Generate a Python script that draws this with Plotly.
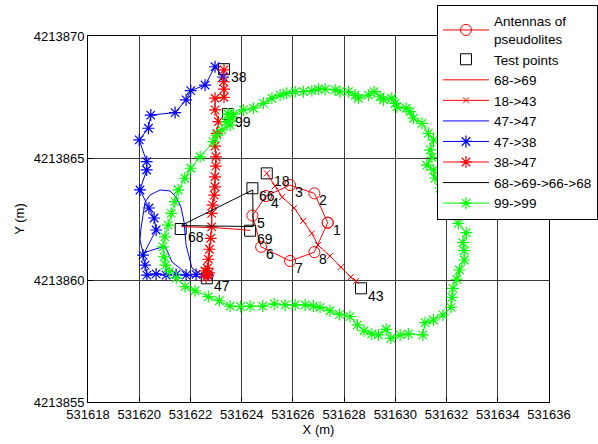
import plotly.graph_objects as go

# Pseudolite antenna positions (UTM easting / northing, m)
ant_labels = ["1", "2", "3", "4", "5", "6", "7", "8"]
ant_x = [531627.36, 531626.84, 531625.89, 531624.95, 531624.42, 531624.76, 531625.89, 531626.84]
ant_y = [4213862.35, 4213863.55, 4213863.89, 4213863.44, 4213862.64, 4213861.36, 4213860.78, 4213861.14]

# Surveyed test points
tp_labels = ["38", "99", "18", "66", "68", "69", "47", "43"]
tp_x = [531623.31, 531623.47, 531624.98, 531624.42, 531621.62, 531624.33, 531622.64, 531628.66]
tp_y = [4213868.64, 4213866.80, 4213864.37, 4213863.76, 4213862.09, 4213862.02, 4213860.07, 4213859.66]

# Trajectory 68 -> 69
t68_69_x = [531621.65, 531622.38, 531623.16, 531623.94, 531624.33]
t68_69_y = [4213862.19, 4213862.17, 4213862.13, 4213862.07, 4213862.03]

# Trajectory 18 -> 43
t18_43_x = [531624.98, 531625.30, 531625.58, 531626.05, 531626.40, 531626.74, 531626.98,
            531627.45, 531627.87, 531628.26, 531628.47]
t18_43_y = [4213864.37, 4213863.85, 4213863.40, 4213862.95, 4213862.42, 4213861.91, 4213861.43,
            4213860.98, 4213860.53, 4213860.12, 4213859.96]

# Trajectory 47 -> 47
t47_47_x = [531622.57, 531622.06, 531621.83, 531621.75, 531621.63, 531621.44, 531621.20, 531620.81,
            531620.42, 531620.23, 531620.15, 531620.07, 531620.03, 531620.15, 531621.01, 531621.28,
            531621.98, 531622.57]
t47_47_y = [4213860.12, 4213860.49, 4213861.43, 4213862.38, 4213862.99, 4213863.40, 4213863.65, 4213863.69,
            4213863.48, 4213863.20, 4213862.66, 4213862.13, 4213861.64, 4213861.11, 4213861.39, 4213860.74,
            4213860.16, 4213860.12]

# Trajectory 47 -> 38
t47_38_x = [531622.69, 531622.22, 531621.83, 531621.44, 531621.05, 531620.66, 531620.30, 531620.23,
            531620.15, 531620.66, 531620.58, 531620.38, 531620.03, 531620.29, 531620.29, 531620.00,
            531620.36, 531620.45, 531621.40, 531621.83, 531622.01, 531622.57, 531622.96, 531623.27]
t47_38_y = [4213860.20, 4213860.23, 4213860.20, 4213860.23, 4213860.20, 4213860.25, 4213860.20, 4213860.61,
            4213861.02, 4213862.05, 4213862.54, 4213862.95, 4213863.69, 4213864.51, 4213864.85, 4213865.74,
            4213866.22, 4213866.76, 4213866.86, 4213867.38, 4213867.76, 4213867.99, 4213868.74, 4213868.32]

# Trajectory 38 -> 47
t38_47_x = [531623.31, 531623.29, 531623.31, 531623.31, 531622.96, 531622.96, 531623.09, 531623.03,
            531622.96, 531623.00, 531622.99, 531622.96, 531622.96, 531622.93, 531622.87, 531622.83,
            531622.83, 531622.79, 531622.74, 531622.70, 531622.66, 531622.66, 531622.57, 531622.73,
            531622.61]
t38_47_y = [4213868.61, 4213868.13, 4213867.82, 4213867.49, 4213867.45, 4213866.97, 4213866.49, 4213866.01,
            4213865.49, 4213865.05, 4213864.67, 4213864.23, 4213863.82, 4213863.48, 4213863.07, 4213862.73,
            4213862.18, 4213861.71, 4213861.26, 4213860.85, 4213860.48, 4213860.20, 4213860.37, 4213860.29,
            4213860.12]

# Closed loop 68 -> 69 -> 66 -> 68
loop_x = [531621.65, 531624.45, 531624.43, 531621.67]
loop_y = [4213862.23, 4213862.19, 4213863.69, 4213862.25]

# Trajectory 99 -> 99
t99_x = [531623.47, 531623.63, 531623.39, 531623.55, 531623.23, 531623.03, 531622.89, 531622.38, 531622.01,
         531621.78, 531621.52, 531621.39, 531621.25, 531621.13, 531621.00, 531620.93, 531620.97, 531621.02,
         531621.19, 531621.45, 531621.79, 531622.18, 531622.70, 531623.13, 531623.55, 531623.96, 531624.33,
         531624.82, 531625.27, 531625.70, 531626.09, 531626.48, 531626.80, 531627.06, 531627.45, 531627.82,
         531628.23, 531628.52, 531628.78, 531629.08, 531629.34, 531629.64, 531629.82, 531630.19, 531630.51,
         531631.07, 531631.16, 531631.49, 531631.86, 531632.17, 531632.21, 531632.25, 531632.40, 531632.50,
         531632.69, 531632.69, 531632.64, 531632.77, 531632.46, 531632.46, 531632.11, 531631.95, 531631.75,
         531631.55, 531631.49, 531631.23, 531631.43, 531631.36, 531631.49, 531631.29, 531631.04, 531630.71,
         531630.58, 531630.42, 531630.06, 531629.99, 531629.86, 531629.54, 531629.41, 531629.17, 531628.95,
         531628.56, 531628.43, 531628.17, 531627.84, 531627.65, 531627.26, 531627.00, 531626.74, 531626.41,
         531626.09, 531625.76, 531625.50, 531625.18, 531624.85, 531624.46, 531624.07, 531623.68, 531623.47]
t99_y = [4213866.80, 4213866.64, 4213866.48, 4213866.35, 4213866.15, 4213865.94, 4213865.67, 4213865.05,
         4213864.58, 4213864.17, 4213863.69, 4213863.21, 4213862.73, 4213862.25, 4213861.77, 4213861.36,
         4213860.95, 4213860.61, 4213860.34, 4213860.09, 4213859.73, 4213859.56, 4213859.32, 4213859.15,
         4213858.93, 4213858.91, 4213858.93, 4213858.93, 4213859.02, 4213858.98, 4213858.98, 4213858.98,
         4213858.93, 4213858.88, 4213858.74, 4213858.59, 4213858.50, 4213858.16, 4213857.92, 4213857.79,
         4213857.75, 4213857.98, 4213857.61, 4213857.75, 4213857.79, 4213857.75, 4213858.25, 4213858.36,
         4213858.57, 4213858.88, 4213859.29, 4213859.66, 4213860.03, 4213860.41, 4213860.82, 4213861.20,
         4213861.53, 4213861.94, 4213862.32, 4213862.62, 4213862.80, 4213863.28, 4213863.77, 4213864.18,
         4213864.51, 4213864.71, 4213865.03, 4213865.33, 4213865.74, 4213866.01, 4213866.42, 4213866.63,
         4213866.90, 4213867.04, 4213867.10, 4213867.24, 4213867.45, 4213867.38, 4213867.51, 4213867.72,
         4213867.58, 4213867.45, 4213867.58, 4213867.72, 4213867.72, 4213867.79, 4213867.82, 4213867.82,
         4213867.76, 4213867.72, 4213867.72, 4213867.65, 4213867.58, 4213867.45, 4213867.24, 4213867.04,
         4213866.97, 4213866.80, 4213866.80]

x_ticks = list(range(531618, 531637, 2))
y_ticks = [4213855, 4213860, 4213865, 4213870]

RED, BLUE, GREEN, BLACK = "#ff0000", "#0000ff", "#00ff00", "#000000"
FONT = "Liberation Sans, Arial, Helvetica, sans-serif"

fig = go.Figure()

# antenna polygon, closed back to antenna 1
fig.add_trace(go.Scatter(
    x=ant_x + ant_x[:1], y=ant_y + ant_y[:1], mode="lines+markers",
    name="Antennas of<br>pseudolites",
    line=dict(color=RED, width=1),
    marker=dict(symbol="circle-open", size=11, color=RED, line=dict(width=1, color=RED)),
))
fig.add_trace(go.Scatter(
    x=tp_x, y=tp_y, mode="markers", name="Test points",
    marker=dict(symbol="square-open", size=11, color=BLACK, line=dict(width=1, color=BLACK)),
))
fig.add_trace(go.Scatter(
    x=t68_69_x, y=t68_69_y, mode="lines", name="68->69",
    line=dict(color=RED, width=1),
))
fig.add_trace(go.Scatter(
    x=t18_43_x, y=t18_43_y, mode="lines+markers", name="18->43",
    line=dict(color=RED, width=1),
    marker=dict(symbol="x-thin-open", size=6, color=RED, line=dict(width=1, color=RED)),
))
fig.add_trace(go.Scatter(
    x=t47_47_x, y=t47_47_y, mode="lines", name="47->47",
    line=dict(color=BLUE, width=1),
))
fig.add_trace(go.Scatter(
    x=t47_38_x, y=t47_38_y, mode="lines+markers", name="47->38",
    line=dict(color=BLUE, width=1),
    marker=dict(symbol="asterisk-open", size=10, color=BLUE, line=dict(width=1.2, color=BLUE)),
))
fig.add_trace(go.Scatter(
    x=t38_47_x, y=t38_47_y, mode="lines+markers", name="38->47",
    line=dict(color=RED, width=1),
    marker=dict(symbol="asterisk-open", size=10, color=RED, line=dict(width=1.2, color=RED)),
))
fig.add_trace(go.Scatter(
    x=loop_x, y=loop_y, mode="lines", name="68->69->66->68",
    line=dict(color=BLACK, width=1),
))
fig.add_trace(go.Scatter(
    x=t99_x, y=t99_y, mode="lines+markers", name="99->99",
    line=dict(color=GREEN, width=1),
    marker=dict(symbol="asterisk-open", size=10, color=GREEN, line=dict(width=1.2, color=GREEN)),
))

# point labels
annotations = []
for lab, x, y in zip(ant_labels, ant_x, ant_y):
    annotations.append(dict(x=x, y=y, text=lab, showarrow=False, xanchor="center", yanchor="middle",
                            xshift=9, yshift=-7, font=dict(size=14, color=BLACK, family=FONT)))
for lab, x, y in zip(tp_labels, tp_x, tp_y):
    annotations.append(dict(x=x, y=y, text=lab, showarrow=False, xanchor="left", yanchor="middle",
                            xshift=5, yshift=-8, font=dict(size=14, color=BLACK, family=FONT)))

axis_common = dict(
    showgrid=True, gridcolor="#3a3a3a", gridwidth=1,
    showline=True, linecolor=BLACK, linewidth=1, mirror=True,
    ticks="inside", ticklen=5, tickcolor=BLACK, tickformat="d",
    zeroline=False, tickfont=dict(size=13, color=BLACK, family=FONT),
)

fig.update_layout(
    width=598, height=444,
    margin=dict(l=88, r=49, t=36, b=42, autoexpand=False),
    paper_bgcolor="white", plot_bgcolor="white",
    font=dict(family=FONT, size=13, color=BLACK),
    xaxis=dict(range=[531618, 531636], tickvals=x_ticks,
               title=dict(text="X (m)", font=dict(size=13), standoff=4), **axis_common),
    yaxis=dict(range=[4213855, 4213870], tickvals=y_ticks,
               title=dict(text="Y (m)", font=dict(size=13), standoff=6), **axis_common),
    legend=dict(x=0.757, y=1.085, xanchor="left", yanchor="top",
                bgcolor="white", bordercolor=BLACK, borderwidth=1,
                font=dict(size=13.5, family=FONT, color=BLACK),
                itemwidth=46, tracegroupgap=0),
    annotations=annotations,
    showlegend=True,
)

fig.write_html("out.html")
